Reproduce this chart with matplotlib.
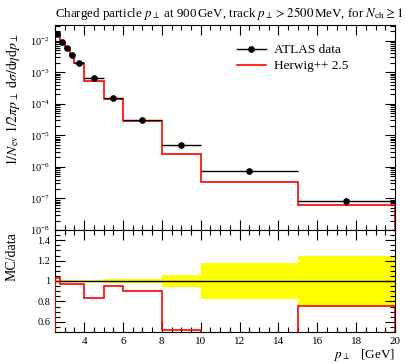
import numpy as np
import matplotlib
matplotlib.use("Agg")
import matplotlib.pyplot as plt
from matplotlib.ticker import MultipleLocator, LogLocator, FuncFormatter, NullFormatter
from matplotlib.lines import Line2D

# bin edges in pT [GeV]
edges = [2.5, 2.75, 3.0, 3.25, 3.5, 4.0, 5.0, 6.0, 8.0, 10.0, 15.0, 20.0]
# ATLAS data
data = [1.71e-2, 9.5e-3, 6.0e-3, 3.67e-3, 2.05e-3, 6.5e-4, 1.55e-4, 3.2e-5, 5.0e-6, 7.5e-7, 8.2e-8]
data_relerr = [0.008, 0.008, 0.008, 0.008, 0.01, 0.01, 0.02, 0.02, 0.055, 0.175, 0.245]
# Herwig++ 2.5
mc = [1.756e-2, 9.25e-3, 5.85e-3, 3.55e-3, 1.98e-3, 5.4e-4, 1.48e-4, 2.9e-5, 2.6e-6, 3.4e-7, 6.2e-8]

plt.rcParams['font.family'] = ['Liberation Serif', 'DejaVu Serif']
plt.rcParams['mathtext.fontset'] = 'stix'

edges = np.array(edges)
data = np.array(data)
mc = np.array(mc)
err = np.array(data_relerr)
centers = 0.5 * (edges[1:] + edges[:-1])
halfw = 0.5 * (edges[1:] - edges[:-1])

fig = plt.figure(figsize=(4.06, 3.63), dpi=100)
W, H = 406.0, 363.0
ax = fig.add_axes([55 / W, 1 - 230 / H, 340 / W, 205 / H])
rx = fig.add_axes([55 / W, 1 - 332 / H, 340 / W, 102 / H], sharex=ax)

# main panel
ax.stairs(mc, edges, color='red', lw=1.2, zorder=2)
ax.errorbar(centers, data, xerr=halfw, yerr=data * err, fmt='o', ms=3.8,
            color='black', elinewidth=1.0, capsize=0, zorder=3)
ax.set_yscale('log')
ax.set_xlim(2.5, 20)
ax.set_ylim(1e-8, 0.032)
ax.yaxis.set_major_locator(LogLocator(base=10, numticks=20))
ax.yaxis.set_minor_locator(LogLocator(base=10, subs=np.arange(2, 10), numticks=100))
ax.yaxis.set_minor_formatter(NullFormatter())
ax.tick_params(labelbottom=False)

handles = [Line2D([], [], color='black', marker='o', ms=3.8, lw=1.0),
           Line2D([], [], color='red', lw=1.2)]
ax.legend(handles, ['ATLAS data', 'Herwig++ 2.5'], loc='upper left',
          bbox_to_anchor=(0.5, 0.965), frameon=False, fontsize=9.5,
          handlelength=2.2, handletextpad=0.6, labelspacing=0.3)

# ratio panel
rx.stairs(1 + err, edges, baseline=1 - err, fill=True, color='yellow', lw=0, zorder=1)
rx.axhline(1.0, color='black', lw=1.0, zorder=2)
rx.stairs(mc / data, edges, color='red', lw=1.2, zorder=3)
rx.set_ylim(0.5, 1.5)
rx.yaxis.set_major_locator(MultipleLocator(0.2))
rx.yaxis.set_minor_locator(MultipleLocator(0.05))
rx.yaxis.set_major_formatter(FuncFormatter(lambda v, p: '%g' % round(v, 2)))
rx.xaxis.set_major_locator(MultipleLocator(2))
rx.xaxis.set_minor_locator(MultipleLocator(0.5))

for a in (ax, rx):
    a.tick_params(which='both', direction='in', top=True, right=True, labelsize=7.5)
    a.tick_params(which='major', length=7.5, width=0.8)
    a.tick_params(which='minor', length=3.5, width=0.8)
rx.tick_params(axis='x', labelsize=8)

fig.text(55 / W, 1 - 13 / H,
         r'Charged particle $p_\perp$ at 900$\,$GeV, track $p_\perp > 2500\,$MeV, for $N_\mathrm{ch} \geq 1$',
         ha='left', va='center', fontsize=9.4)
fig.text(13 / W, 1 - 33 / H,
         r'$1/N_\mathrm{ev}\ 1/2\pi p_\perp\ \mathrm{d}\sigma/\mathrm{d}\eta\mathrm{d}p_\perp$',
         rotation=90, ha='center', va='top', fontsize=10)
fig.text(12 / W, 1 - 232 / H, 'MC/data', rotation=90, ha='center', va='top', fontsize=10)
fig.text(395 / W, 1 - 355 / H, r'$p_\perp$   [GeV]', ha='right', va='center', fontsize=9.5)

fig.savefig('out.png', dpi=100)
